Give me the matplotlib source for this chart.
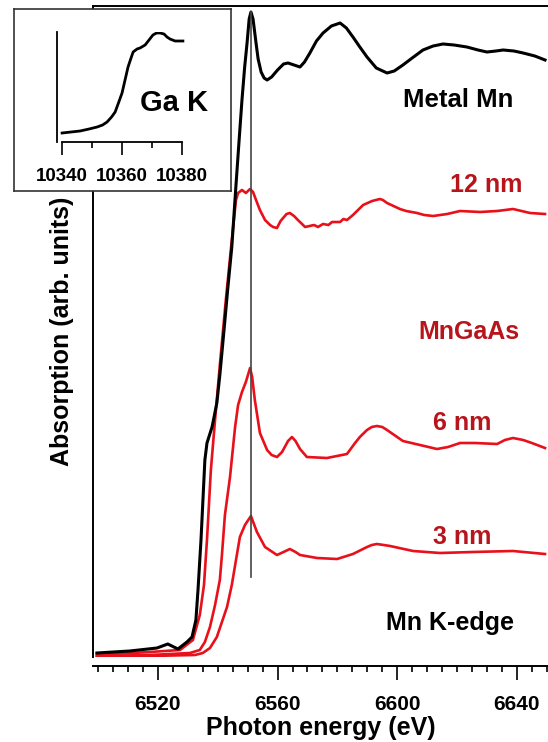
import matplotlib
matplotlib.use("Agg")
import matplotlib.pyplot as plt
from matplotlib.ticker import MultipleLocator

plt.rcParams['font.family'] = ['Liberation Sans', 'DejaVu Sans']
plt.rcParams['font.weight'] = 'bold'

# Mn K-edge, metal Mn reference (black)
metal_e = [6499.6, 6510.6, 6519.7, 6523.3, 6526.7, 6529.7, 6531.4, 6532.7, 6533.4, 6534.4,
           6535.7, 6536.4, 6538.1, 6539.7, 6540.7, 6542.1, 6543.4, 6544.7, 6546.1, 6547.1,
           6548.1, 6549.0, 6549.8, 6550.5, 6551.1, 6551.8, 6552.8, 6553.5, 6554.5, 6555.5,
           6556.5, 6558.0, 6560.0, 6562.0, 6563.5, 6565.5, 6567.5, 6569.0, 6570.8, 6573.0,
           6575.2, 6578.0, 6580.9, 6583.0, 6585.2, 6587.5, 6589.9, 6593.0, 6596.6, 6599.0,
           6601.9, 6605.0, 6608.6, 6612.0, 6615.3, 6619.0, 6623.3, 6627.0, 6630.0, 6633.0,
           6635.4, 6639.0, 6642.1, 6646.0, 6649.4]
metal_y = [0.04, 0.06, 0.09, 0.13, 0.08, 0.15, 0.20, 0.37, 0.67, 1.17,
           1.97, 2.14, 2.30, 2.54, 2.82, 3.27, 3.70, 4.10, 4.72, 5.15,
           5.57, 5.90, 6.14, 6.38, 6.45, 6.38, 6.14, 5.98, 5.85, 5.79,
           5.77, 5.80, 5.87, 5.93, 5.94, 5.92, 5.90, 5.95, 6.04, 6.16,
           6.24, 6.31, 6.34, 6.29, 6.20, 6.10, 6.00, 5.89, 5.84, 5.86,
           5.92, 5.99, 6.07, 6.11, 6.13, 6.12, 6.10, 6.07, 6.05, 6.06,
           6.07, 6.06, 6.04, 6.01, 5.97]

# MnGaAs 12 nm
nm12_e = [6499.6, 6517.3, 6527.4, 6531.7, 6534.0, 6535.4, 6536.4, 6537.7, 6539.1, 6540.7,
          6542.7, 6544.7, 6546.1, 6546.8, 6548.1, 6549.4, 6550.8, 6551.8, 6552.8, 6554.1,
          6555.8, 6557.5, 6558.5, 6559.8, 6561.0, 6563.0, 6564.1, 6565.5, 6566.8, 6569.2,
          6572.2, 6573.5, 6575.2, 6577.0, 6578.2, 6580.9, 6582.0, 6583.2, 6585.2, 6588.6,
          6591.6, 6594.2, 6595.2, 6596.6, 6600.9, 6603.0, 6606.6, 6609.0, 6612.0, 6616.7,
          6621.0, 6627.7, 6633.4, 6638.7, 6644.4, 6649.4]
nm12_y = [0.02, 0.05, 0.07, 0.17, 0.42, 0.72, 1.17, 1.87, 2.37, 2.92,
          3.57, 4.17, 4.57, 4.64, 4.67, 4.64, 4.68, 4.65, 4.57, 4.47,
          4.37, 4.32, 4.30, 4.29, 4.36, 4.43, 4.44, 4.41, 4.37, 4.30,
          4.32, 4.30, 4.33, 4.32, 4.35, 4.35, 4.38, 4.37, 4.42, 4.52,
          4.56, 4.58, 4.57, 4.54, 4.48, 4.46, 4.44, 4.42, 4.41, 4.43,
          4.46, 4.45, 4.46, 4.48, 4.44, 4.43]

# MnGaAs 6 nm
nm6_e = [6499.6, 6517.3, 6530.7, 6534.0, 6535.7, 6537.4, 6539.1, 6540.7, 6541.4, 6542.4,
         6544.1, 6545.8, 6546.8, 6548.1, 6549.4, 6550.8, 6551.5, 6552.4, 6554.1, 6556.5,
         6558.0, 6559.8, 6561.5, 6563.5, 6564.8, 6566.0, 6567.5, 6569.8, 6576.5, 6583.2,
         6585.9, 6587.5, 6589.9, 6591.5, 6593.2, 6595.0, 6596.6, 6599.0, 6601.9, 6607.6,
         6613.3, 6617.0, 6621.0, 6626.0, 6633.4, 6636.0, 6638.7, 6642.1, 6645.0, 6649.4]
nm6_y = [0.01, 0.02, 0.04, 0.07, 0.15, 0.30, 0.52, 0.77, 1.02, 1.42,
         1.80, 2.30, 2.52, 2.65, 2.75, 2.89, 2.80, 2.57, 2.24, 2.07,
         2.02, 2.00, 2.05, 2.16, 2.20, 2.16, 2.08, 2.00, 1.99, 2.03,
         2.14, 2.20, 2.27, 2.30, 2.31, 2.30, 2.27, 2.22, 2.16, 2.12,
         2.08, 2.10, 2.14, 2.14, 2.13, 2.17, 2.19, 2.17, 2.14, 2.09]

# MnGaAs 3 nm
nm3_e = [6499.6, 6517.3, 6532.4, 6535.0, 6537.4, 6539.7, 6541.4, 6543.1, 6544.7, 6546.1,
         6547.4, 6549.1, 6551.1, 6553.1, 6555.8, 6559.8, 6562.0, 6564.1, 6566.0, 6567.5,
         6573.2, 6579.9, 6585.2, 6589.9, 6591.5, 6593.2, 6595.5, 6597.6, 6605.3, 6614.3,
         6625.3, 6638.7, 6649.4]
nm3_y = [0.00, 0.01, 0.02, 0.04, 0.09, 0.20, 0.35, 0.50, 0.72, 0.97,
         1.20, 1.32, 1.41, 1.25, 1.10, 1.02, 1.05, 1.08, 1.05, 1.02,
         0.99, 0.98, 1.03, 1.10, 1.12, 1.13, 1.12, 1.11, 1.06, 1.04,
         1.05, 1.06, 1.03]

# Ga K-edge inset
ga_e = [10340, 10346, 10349, 10351.7, 10353.5, 10355, 10356.5, 10357.7, 10358.8, 10360,
        10361, 10362, 10363, 10363.7, 10365, 10366, 10367.7, 10369, 10370.3, 10371.5,
        10372.7, 10374, 10375, 10376, 10377.7, 10379, 10380.3]
ga_y = [0.09, 0.11, 0.13, 0.15, 0.17, 0.20, 0.25, 0.30, 0.39, 0.49,
        0.62, 0.75, 0.84, 0.90, 0.93, 0.94, 0.97, 1.02, 1.07, 1.09,
        1.09, 1.08, 1.05, 1.03, 1.01, 1.01, 1.01]

peak_e = 6551.1
red = '#e8101a'
dark_red = '#b8141c'

W, H = 548, 742
fig = plt.figure(figsize=(W / 100, H / 100), dpi=100)

ax = fig.add_axes([93 / W, 1 - 657 / H, (W - 93) / W, 651 / H])
ax.plot(nm3_e, nm3_y, color=red, lw=1.9, solid_joinstyle='round')
ax.plot(nm6_e, nm6_y, color=red, lw=1.9, solid_joinstyle='round')
ax.plot(nm12_e, nm12_y, color=red, lw=1.9, solid_joinstyle='round')
ax.plot(metal_e, metal_y, color='black', lw=2.2, solid_joinstyle='round')
ax.plot([peak_e, peak_e], [0.80, 6.45], color='#444444', lw=1.2)

ax.set_xlim(6498.3, 6650.4)
ax.set_ylim(0, 6.51)
ax.spines['right'].set_visible(False)
ax.spines['bottom'].set_position(('outward', 6.5))
for s in ax.spines.values():
    s.set_linewidth(1.4)
ax.set_yticks([])
ax.xaxis.set_major_locator(MultipleLocator(40))
ax.xaxis.set_minor_locator(MultipleLocator(5))
ax.tick_params(axis='x', which='major', length=10, width=1.2, pad=11, labelsize=15)
ax.tick_params(axis='x', which='minor', length=4.5, width=1.2)
for lab in ax.get_xticklabels():
    lab.set_fontweight('bold')
ax.set_xlabel('Photon energy (eV)', fontsize=18, fontweight='bold', labelpad=1)
ax.set_ylabel('Absorption (arb. units)', fontsize=18, fontweight='bold', labelpad=14)

ax.text(6620.3, 5.57, 'Metal Mn', fontsize=18.5, ha='center', va='center', color='black')
ax.text(6629.7, 4.72, '12 nm', fontsize=18, ha='center', va='center', color=dark_red)
ax.text(6624.0, 3.25, 'MnGaAs', fontsize=18, ha='center', va='center', color=dark_red)
ax.text(6621.7, 2.34, '6 nm', fontsize=18, ha='center', va='center', color=dark_red)
ax.text(6621.7, 1.20, '3 nm', fontsize=18, ha='center', va='center', color=dark_red)
ax.text(6617.7, 0.34, 'Mn K-edge', fontsize=18, ha='center', va='center', color='black')

# inset frame
box = fig.add_axes([14 / W, 1 - 191 / H, 217 / W, 182 / H])
box.set_xticks([])
box.set_yticks([])
for s in box.spines.values():
    s.set_linewidth(1.2)
    s.set_color('#333333')

ins = fig.add_axes([57 / W, 1 - 142 / H, 128 / W, 110 / H])
ins.patch.set_alpha(0)
ins.plot(ga_e, ga_y, color='black', lw=2.0, solid_joinstyle='round')
ins.set_xlim(10338.3, 10381)
ins.set_ylim(0, 1.10)
ins.spines['top'].set_visible(False)
ins.spines['right'].set_visible(False)
ins.spines['bottom'].set_bounds(10340, 10380)
ins.spines['left'].set_linewidth(1.3)
ins.spines['bottom'].set_linewidth(1.3)
ins.set_yticks([])
ins.set_xticks([10340, 10360, 10380])
ins.set_xticks([10350, 10370], minor=True)
ins.tick_params(axis='x', which='major', length=9, width=1.2, pad=10, labelsize=13.5)
ins.tick_params(axis='x', which='minor', length=4, width=1.2)
ins.text(10377.3, 0.39, 'Ga K', fontsize=21, ha='center', va='center')

fig.savefig('out.png', dpi=100)
